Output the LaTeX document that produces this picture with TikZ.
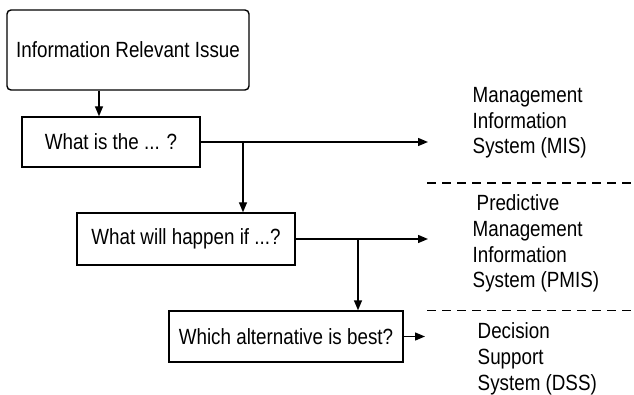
\documentclass[tikz,border=0pt]{standalone}
\usepackage{fontspec}
\setmainfont[FakeStretch=0.855]{Liberation Sans}
\usetikzlibrary{arrows.meta}
\begin{document}
\begin{tikzpicture}[x=1pt,y=-1pt,
  font=\fontsize{22}{25.7}\selectfont,
  line width=1.4pt,
  qbox/.style={draw, rectangle, inner sep=0pt},
  arr/.style={-{Triangle[length=10pt,width=8pt]}},
  sysnote/.style={align=left, anchor=west, inner sep=0pt},
  divider/.style={dashed, dash pattern=on 9pt off 6pt},
]
\useasboundingbox (0,0) rectangle (634,395);

% question boxes
\node[qbox, rounded corners=4pt, minimum width=242pt, minimum height=80pt] (issue) at (128,50) {Information Relevant Issue\hspace{9pt}};
\node[qbox, minimum width=178pt, minimum height=50pt] (q1) at (111,142) {What is the ... ?\hspace{5pt}};
\node[qbox, minimum width=218pt, minimum height=52pt] (q2) at (186,239) {What will happen if ...?\hspace{6pt}};
\node[qbox, minimum width=234pt, minimum height=51pt] (q3) at (286,336.5) {Which alternative is best?\hspace{8pt}};

% system labels
\node[sysnote] (mis) at (472,123) {Management\\Information\\System (MIS)};
\node[sysnote] (pmis) at (472,243.5) {\hspace{4pt}Predictive\\Management\\Information\\System (PMIS)};
\node[sysnote] (dss) at (477,359) {Decision\\Support\\System (DSS)};

% helper points for the connectors
\coordinate (c0) at (99,0);
\coordinate (t1) at (428,0);
\coordinate (b1) at (243,0);
\coordinate (b2) at (358,0);
\coordinate (t3) at (425,0);

% connectors
\draw[arr] (issue.south -| c0) -- (q1.north -| c0);
\draw[arr] (q1.east) -- (q1.east -| t1);
\draw[arr] (q1.east -| b1) -- (q2.north -| b1);
\draw[arr] (q2.east) -- (q2.east -| t1);
\draw[arr] (q2.east -| b2) -- (q3.north -| b2);
\draw[arr] (q3.east) -- (q3.east -| t3);

% dividers between the system types
\coordinate (d1) at (427,183);
\coordinate (d2) at (427,310.5);
\draw[divider] (d1) -- (d1 -| 634,0);
\draw[divider] (d2) -- (d2 -| 634,0);
\end{tikzpicture}
\end{document}
